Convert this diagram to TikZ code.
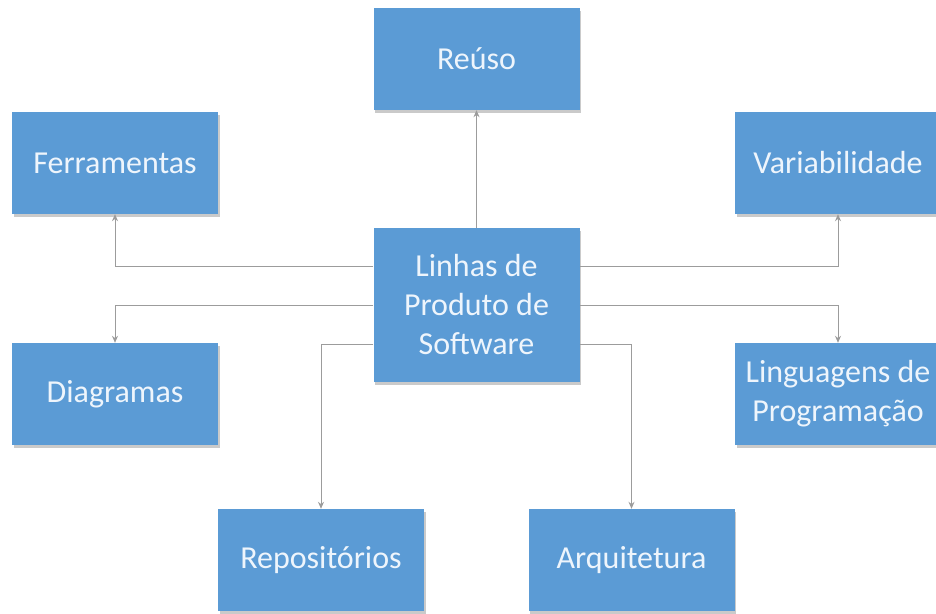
\documentclass[tikz,border=0pt]{standalone}
\usepackage{fontspec}
\setmainfont{Carlito}
\usetikzlibrary{shadows,arrows.meta}
\definecolor{boxblue}{HTML}{5B9BD5}
\definecolor{linegray}{HTML}{9C9C9C}
\definecolor{boxtext}{HTML}{EEF5FC}
\tikzset{
  blk/.style={fill=boxblue, draw=none, minimum width=206pt, minimum height=102pt,
    inner sep=0pt, text=boxtext, align=center, font=\fontsize{32}{39}\selectfont,
    drop shadow={shadow xshift=1.5pt, shadow yshift=-2.5pt, opacity=0.35, fill=black!60}},
  conn/.style={draw=linegray, line width=1pt, -{Stealth[length=7pt,width=6pt]}}
}
\begin{document}
\begin{tikzpicture}[x=1pt,y=-1pt]
\useasboundingbox (0,0) rectangle (936,613);
\clip (0,0) rectangle (936,613);
\node[blk] (reuso) at (476.5,59) {Reúso};
\node[blk] (ferr) at (115,163) {Ferramentas};
\node[blk] (var) at (838,163) {Variabilidade};
\node[blk, minimum height=154pt] (lps) at (476.5,305) {Linhas de\\Produto de\\Software};
\node[blk] (diag) at (115,394) {Diagramas};
\node[blk] (ling) at (838,394) {Linguagens de\\Programação};
\node[blk] (repo) at (321,560) {Repositórios};
\node[blk] (arq) at (631.5,560) {Arquitetura};
\draw[conn] (lps.north) -- (reuso.south);
\draw[conn] (lps.west |- 0,266) -| (ferr.south);
\draw[conn] (lps.east |- 0,266) -| (var.south);
\draw[conn] (lps.west |- 0,305) -| (diag.north);
\draw[conn] (lps.east |- 0,305) -| (ling.north);
\draw[conn] (lps.west |- 0,344) -| (repo.north);
\draw[conn] (lps.east |- 0,344) -| (arq.north);
\end{tikzpicture}
\end{document}
